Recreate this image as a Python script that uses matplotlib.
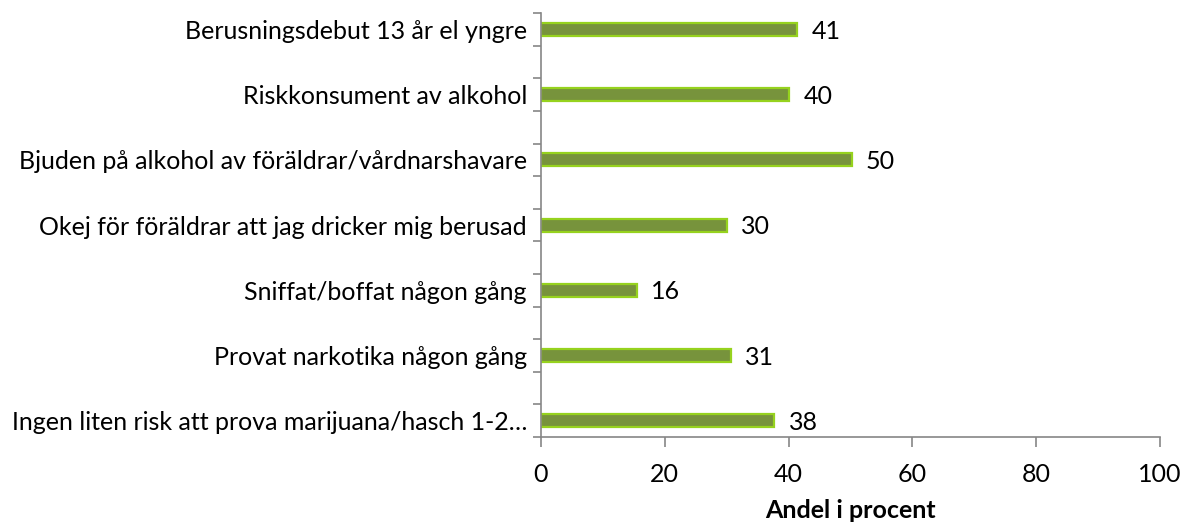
import matplotlib
matplotlib.use("Agg")
import matplotlib.pyplot as plt
import numpy as np

categories = [
    "Berusningsdebut 13 år el yngre",
    "Riskkonsument av alkohol",
    "Bjuden på alkohol av föräldrar/vårdnarshavare",
    "Okej för föräldrar att jag dricker mig berusad",
    "Sniffat/boffat någon gång",
    "Provat narkotika någon gång",
    "Ingen liten risk att prova marijuana/hasch 1-2…",
]
values = [41.4, 40.1, 50.2, 30.0, 15.5, 30.7, 37.7]
xticks = [0, 20, 40, 60, 80, 100]

plt.rcParams['font.family'] = ['Lato', 'DejaVu Sans']
fs = 18

fig = plt.figure(figsize=(11.94, 5.24), dpi=100)
ax = fig.add_axes([0.453, 0.166, 0.5185, 0.809])

# bars sit in every other slot, blank slots between them
n = len(categories)
ypos = np.arange(n) * 2
ax.barh(ypos, values, height=0.4, color="#77933C", edgecolor="#96D21E", linewidth=1.6)

for y, v in zip(ypos, values):
    ax.text(v + 2.3, y + 0.05, "%.0f" % v, va="center", ha="left", fontsize=fs, color="black")

ax.set_xlim(0, 100)
ax.set_ylim(ypos[-1] + 0.5, -0.5)
ax.set_xticks(xticks)
ax.set_xticklabels([str(t) for t in xticks], fontsize=fs)

ax.set_yticks(np.arange(-0.5, ypos[-1] + 1, 1.0))
ax.set_yticklabels([])
ax.set_yticks(ypos, minor=True)
ax.set_yticklabels(categories, minor=True, fontsize=fs)
ax.tick_params(axis="y", which="minor", length=0, pad=10)
ax.tick_params(axis="y", which="major", length=6, width=1.2, color="#868686", direction="out")
ax.tick_params(axis="x", length=7, width=1.2, color="#868686", direction="out", pad=12)

for s in ["top", "right"]:
    ax.spines[s].set_visible(False)
for s in ["left", "bottom"]:
    ax.spines[s].set_color("#868686")
    ax.spines[s].set_linewidth(1.2)

ax.set_xlabel("Andel i procent", fontsize=18, fontweight="bold", labelpad=9)

fig.savefig("out.png", dpi=100)
